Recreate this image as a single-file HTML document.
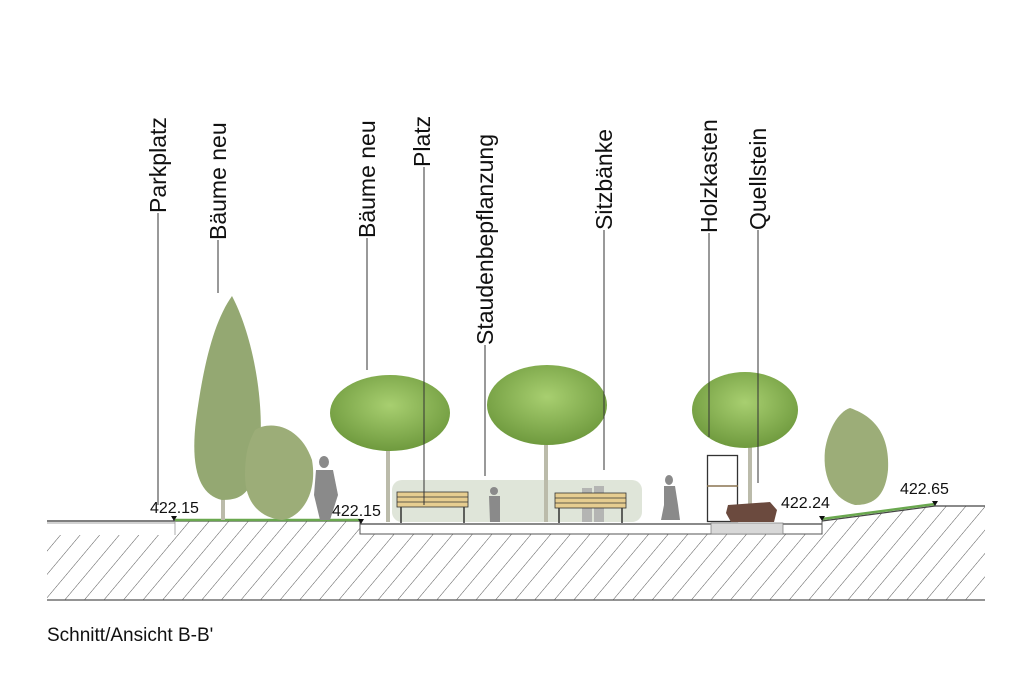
<!DOCTYPE html>
<html><head><meta charset="utf-8"><style>html,body{margin:0;padding:0;background:#fff}svg{display:block}</style></head><body>
<svg width="1024" height="684" viewBox="0 0 1024 684" xmlns="http://www.w3.org/2000/svg" font-family="Liberation Sans, Arial, sans-serif">
<defs>
<pattern id="h" width="15" height="15" patternUnits="userSpaceOnUse" patternTransform="rotate(40)">
<line x1="0" y1="0" x2="0" y2="15" stroke="#444" stroke-width="0.9"/>
</pattern>
<clipPath id="g"><polygon points="47,535 175,535 175,521 360,521 360,534 822,534 822,521 935,506 985,506 985,600 47,600"/></clipPath>
<radialGradient id="cn" cx="50%" cy="40%" r="60%"><stop offset="0" stop-color="#a8cf70"/><stop offset="1" stop-color="#6f9a3e"/></radialGradient>
</defs>
<rect width="1024" height="684" fill="#fff"/>
<rect x="40" y="500" width="950" height="100" fill="url(#h)" clip-path="url(#g)"/>
<polyline points="47,521 175,521 360,521" fill="none" stroke="#333" stroke-width="1.3"/>
<line x1="47" y1="523" x2="175" y2="523" stroke="#888" stroke-width="0.8"/>
<line x1="175" y1="521" x2="175" y2="535" stroke="#999" stroke-width="0.8"/>
<polyline points="360,524 822,524" fill="none" stroke="#444" stroke-width="1.3"/>
<polyline points="360,521 360,534 822,534 822,521" fill="none" stroke="#555" stroke-width="1"/>
<rect x="711" y="523" width="72" height="11" fill="#d8d8d8" stroke="#777" stroke-width="0.7"/>
<polyline points="822,521 935,506 985,506" fill="none" stroke="#444" stroke-width="1.2"/>
<line x1="47" y1="600" x2="985" y2="600" stroke="#555" stroke-width="1.3"/>
<line x1="175" y1="520" x2="360" y2="520" stroke="#6aa84f" stroke-width="2.5"/>
<line x1="822" y1="519" x2="935" y2="504" stroke="#6aa84f" stroke-width="2.5"/>
<g fill="#c9d3c0" opacity="0.6">
<rect x="392" y="480" width="250" height="42" rx="10"/>
</g>
<g fill="#bba" ><rect x="386" y="430" width="4" height="92"/><rect x="544" y="425" width="4" height="97"/><rect x="748" y="430" width="4" height="92"/><rect x="221" y="480" width="4" height="40"/></g>
<ellipse cx="390" cy="413" rx="60" ry="38" fill="url(#cn)"/>
<ellipse cx="547" cy="405" rx="60" ry="40" fill="url(#cn)"/>
<ellipse cx="745" cy="410" rx="53" ry="38" fill="url(#cn)"/>
<path d="M232,296 C250,330 268,400 258,470 C248,495 240,500 222,500 C200,495 190,470 196,420 C204,360 215,320 232,296Z" fill="#94a872"/>
<path d="M255,430 C270,420 300,425 312,460 C318,495 300,518 282,520 C262,518 245,505 245,475 C245,450 250,440 255,430Z" fill="#9cad78"/>
<path d="M850,408 C870,415 890,430 888,470 C885,500 870,505 855,505 C835,500 822,480 825,450 C828,430 838,412 850,408Z" fill="#9cad78"/>
<g fill="#8a8a8a">
<ellipse cx="324" cy="462" rx="5" ry="6"/><path d="M316,470 L333,470 L338,495 L330,520 L320,520 L314,495Z"/>
<ellipse cx="669" cy="480" rx="4" ry="5"/><path d="M664,486 L675,486 L678,505 L680,520 L661,520 L664,505Z"/>
<ellipse cx="494" cy="491" rx="4" ry="4"/><path d="M489,496 L500,496 L500,522 L490,522Z"/>
</g>
<g fill="#aaa" opacity="0.8"><rect x="582" y="488" width="10" height="34"/><rect x="594" y="486" width="10" height="36"/></g>
<g stroke="#333" stroke-width="0.8">
<rect x="397" y="492" width="71" height="15" fill="#e6cd90"/>
<line x1="397" y1="497" x2="468" y2="497"/><line x1="397" y1="502" x2="468" y2="502"/>
<line x1="401" y1="507" x2="401" y2="523" stroke-width="1.5"/><line x1="464" y1="507" x2="464" y2="523" stroke-width="1.5"/>
<rect x="555" y="493" width="71" height="15" fill="#e6cd90"/>
<line x1="555" y1="498" x2="626" y2="498"/><line x1="555" y1="503" x2="626" y2="503"/>
<line x1="559" y1="508" x2="559" y2="523" stroke-width="1.5"/><line x1="622" y1="508" x2="622" y2="523" stroke-width="1.5"/>
</g>
<rect x="707.5" y="455.5" width="30" height="66" fill="none" stroke="#333" stroke-width="1.3"/>
<line x1="707" y1="486" x2="738" y2="486" stroke="#8a7450" stroke-width="1.5"/>
<path d="M728,505 L770,502 L777,510 L774,522 L731,522 L726,513Z" fill="#6b4a3e"/>
<g stroke="#333" stroke-width="1">
<line x1="158" y1="213" x2="158" y2="505"/>
<line x1="218" y1="240" x2="218" y2="293"/>
<line x1="367" y1="238" x2="367" y2="370"/>
<line x1="424" y1="167" x2="424" y2="505"/>
<line x1="485" y1="345" x2="485" y2="476"/>
<line x1="604" y1="230" x2="604" y2="470"/>
<line x1="709" y1="233" x2="709" y2="437"/>
<line x1="758" y1="230" x2="758" y2="483"/>
</g>
<g font-size="23" fill="#111">
<text transform="translate(166,213) rotate(-90)">Parkplatz</text>
<text transform="translate(226,240) rotate(-90)">Bäume neu</text>
<text transform="translate(375,238) rotate(-90)">Bäume neu</text>
<text transform="translate(430,167) rotate(-90)">Platz</text>
<text transform="translate(493,345) rotate(-90)">Staudenbepflanzung</text>
<text transform="translate(612,230) rotate(-90)">Sitzbänke</text>
<text transform="translate(717,233) rotate(-90)">Holzkasten</text>
<text transform="translate(766,230) rotate(-90)">Quellstein</text>
</g>
<g font-size="16" fill="#111">
<text x="150" y="513">422.15</text>
<text x="332" y="516">422.15</text>
<text x="781" y="508">422.24</text>
<text x="900" y="494">422.65</text>
</g>
<g fill="#111">
<polygon points="171,516 177,516 174,521"/>
<polygon points="358,519 364,519 361,524"/>
<polygon points="819,516 825,516 822,521"/>
<polygon points="932,501 938,501 935,506"/>
</g>
<text x="47" y="641" font-size="19" fill="#111">Schnitt/Ansicht B-B'</text>
</svg>
</body></html>
